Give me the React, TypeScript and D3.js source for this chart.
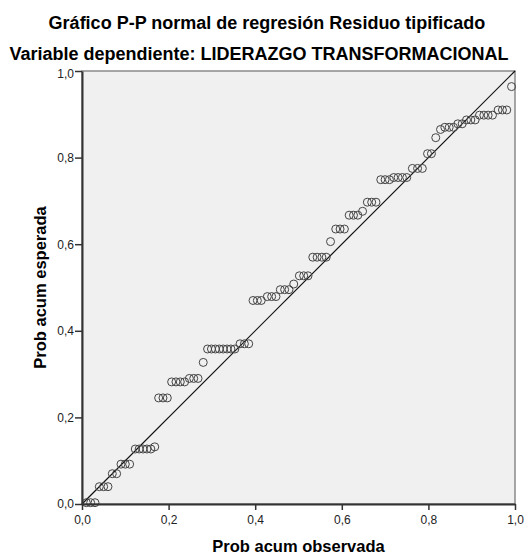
import { useEffect, useRef } from "react";
import * as d3 from "d3";

// P-P plot: observed cumulative prob (x) vs expected cumulative prob (y)
const observada = [
  0.010, 0.020, 0.030,
  0.040, 0.050, 0.060,
  0.070, 0.080,
  0.090, 0.100, 0.110,
  0.123, 0.132, 0.141, 0.150, 0.159, 0.168,
  0.177, 0.187, 0.197,
  0.207, 0.217, 0.227, 0.237,
  0.248, 0.258, 0.268,
  0.280,
  0.290, 0.299, 0.308, 0.317, 0.326, 0.335, 0.344, 0.353,
  0.365, 0.375, 0.385,
  0.395, 0.405, 0.414,
  0.428, 0.438, 0.448,
  0.458, 0.468, 0.478,
  0.489,
  0.502, 0.512, 0.522,
  0.533, 0.543, 0.554, 0.564,
  0.574,
  0.586, 0.596, 0.606,
  0.617, 0.627, 0.637,
  0.648,
  0.659, 0.669, 0.679,
  0.690, 0.700, 0.710, 0.720, 0.730, 0.740, 0.750,
  0.763, 0.775, 0.786,
  0.798, 0.807,
  0.817,
  0.828,
  0.838, 0.848, 0.858,
  0.868, 0.878,
  0.888, 0.898, 0.908,
  0.918, 0.928, 0.938, 0.948,
  0.961, 0.971, 0.981,
  0.992,
];

const esperada = [
  0.003, 0.003, 0.003,
  0.040, 0.040, 0.040,
  0.070, 0.070,
  0.092, 0.092, 0.092,
  0.127, 0.127, 0.127, 0.127, 0.127, 0.132,
  0.245, 0.245, 0.245,
  0.282, 0.282, 0.282, 0.282,
  0.290, 0.290, 0.290,
  0.327,
  0.358, 0.358, 0.358, 0.358, 0.358, 0.358, 0.358, 0.358,
  0.370, 0.370, 0.370,
  0.470, 0.470, 0.470,
  0.479, 0.479, 0.479,
  0.495, 0.495, 0.495,
  0.508,
  0.527, 0.527, 0.527,
  0.570, 0.570, 0.570, 0.570,
  0.606,
  0.635, 0.635, 0.635,
  0.667, 0.667, 0.667,
  0.676,
  0.697, 0.697, 0.697,
  0.749, 0.749, 0.749, 0.754, 0.754, 0.754, 0.754,
  0.775, 0.775, 0.775,
  0.809, 0.809,
  0.846,
  0.865,
  0.870, 0.870, 0.870,
  0.878, 0.878,
  0.887, 0.887, 0.887,
  0.898, 0.898, 0.898, 0.898,
  0.910, 0.910, 0.910,
  0.964,
];

const ticks = [0, 0.2, 0.4, 0.6, 0.8, 1.0];
const tickLabels = ["0,0", "0,2", "0,4", "0,6", "0,8", "1,0"];

const titulo = "Gráfico P-P normal de regresión Residuo tipificado";
const subtitulo = "Variable dependiente: LIDERAZGO TRANSFORMACIONAL";

const FONT = "'Liberation Sans', Arial, sans-serif";

const PPPlot = () => {
  const svgRef = useRef<SVGSVGElement>(null);

  useEffect(() => {
    document.body.style.margin = "0";

    const W = 527;
    const H = 556;
    const margin = { top: 71, right: 12, bottom: 52, left: 82 };
    const width = W - margin.left - margin.right;
    const height = H - margin.top - margin.bottom;

    d3.select(svgRef.current).selectAll("*").remove();

    const root = d3
      .select(svgRef.current)
      .attr("width", W)
      .attr("height", H)
      .style("font-family", FONT);

    // titles
    root
      .append("text")
      .attr("x", 267)
      .attr("y", 29)
      .attr("text-anchor", "middle")
      .attr("font-size", 18)
      .attr("font-weight", "bold")
      .text(titulo);

    root
      .append("text")
      .attr("x", 259)
      .attr("y", 60)
      .attr("text-anchor", "middle")
      .attr("font-size", 18)
      .attr("font-weight", "bold")
      .text(subtitulo);

    const svg = root
      .append("g")
      .attr("transform", `translate(${margin.left},${margin.top})`);

    const x = d3.scaleLinear().domain([0, 1]).range([0, width]);
    const y = d3.scaleLinear().domain([0, 1]).range([height, 0]);

    // plot area
    svg
      .append("rect")
      .attr("width", width)
      .attr("height", height)
      .attr("fill", "#f0f0f0")
      .attr("stroke", "#8a8a8a")
      .attr("stroke-width", 1.5);

    // reference diagonal
    svg
      .append("line")
      .attr("x1", x(0))
      .attr("y1", y(0))
      .attr("x2", x(1))
      .attr("y2", y(1))
      .attr("stroke", "#111")
      .attr("stroke-width", 1.2);

    // points
    svg
      .selectAll(".pt")
      .data(d3.zip(observada, esperada))
      .enter()
      .append("circle")
      .attr("class", "pt")
      .attr("cx", (d) => x(d[0]))
      .attr("cy", (d) => y(d[1]))
      .attr("r", 4)
      .attr("fill", "none")
      .attr("stroke", "#444")
      .attr("stroke-width", 1);

    const fmt = (d: d3.NumberValue) => tickLabels[ticks.indexOf(+d)];

    // X axis
    const gx = svg
      .append("g")
      .attr("transform", `translate(0,${height})`)
      .call(d3.axisBottom(x).tickValues(ticks).tickFormat(fmt).tickSize(6).tickSizeOuter(0));
    gx.select(".domain").attr("stroke", "#333").attr("stroke-width", 2);
    gx.selectAll("line").attr("stroke", "#333").attr("stroke-width", 1.5);
    gx.selectAll("text")
      .attr("font-family", FONT)
      .attr("font-size", 12)
      .attr("fill", "#222")
      .attr("dy", "0.9em");

    // Y axis
    const gy = svg
      .append("g")
      .call(d3.axisLeft(y).tickValues(ticks).tickFormat(fmt).tickSize(7).tickSizeOuter(0));
    gy.select(".domain").attr("stroke", "#333").attr("stroke-width", 2);
    gy.selectAll("line").attr("stroke", "#333").attr("stroke-width", 1.5);
    gy.selectAll("text")
      .attr("font-family", FONT)
      .attr("font-size", 12)
      .attr("fill", "#222")
      .attr("x", -8)
      .attr("dy", (d) => (+d === 1 ? "0.5em" : "0.32em"));

    // axis titles
    root
      .append("text")
      .attr("x", margin.left + width / 2)
      .attr("y", 552)
      .attr("text-anchor", "middle")
      .attr("font-size", 16.5)
      .attr("font-weight", "bold")
      .text("Prob acum observada");

    root
      .append("text")
      .attr("transform", `translate(46,${margin.top + height / 2}) rotate(-90)`)
      .attr("text-anchor", "middle")
      .attr("font-size", 16.5)
      .attr("font-weight", "bold")
      .text("Prob acum esperada");
  }, []);

  return <svg ref={svgRef}></svg>;
};

export default function App() {
  return <PPPlot />;
}
